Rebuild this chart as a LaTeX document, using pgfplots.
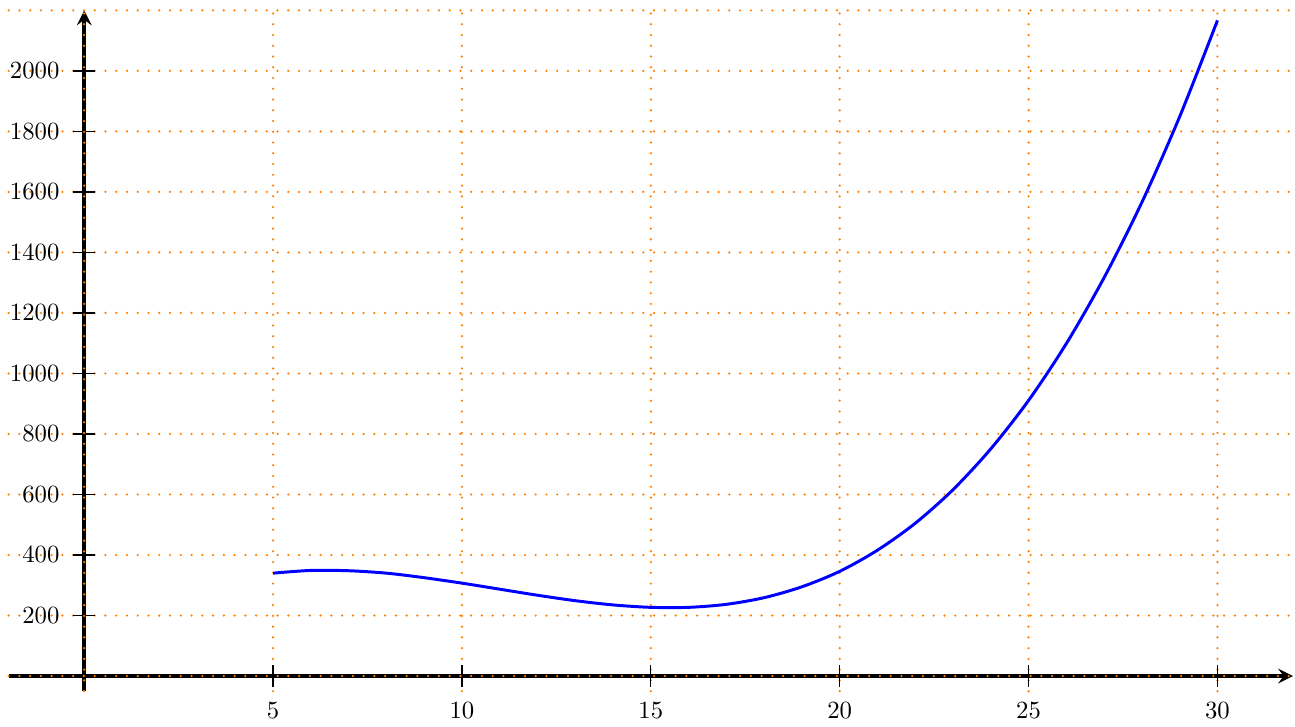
\documentclass[border=0pt]{standalone}
\usepackage{pgfplots}
\pgfplotsset{compat=1.18}
\pgfplotsset{
  layers/gridover/.define layer set={axis background,axis ticks,axis lines,axis grid,axis tick labels,main,axis descriptions,axis foreground}{},
}
\begin{document}
\begin{tikzpicture}
\begin{axis}[
    set layers=gridover,
    scale only axis,
    width=519.4pt,
    height=275.3pt,
    axis lines=middle,
    axis line style={line width=1.6pt},
    xmin=-2, xmax=32,
    ymin=-50, ymax=2200,
    xtick={5,10,...,30},
    ytick={200,400,...,2000},
    extra x ticks={0},
    extra x tick labels={},
    extra y ticks={0,2200},
    extra y tick labels={},
    extra tick style={major tick length=0pt},
    grid=major,
    grid style={orange, line width=1pt, line cap=round, dash pattern=on 0pt off 4.35pt},
    tick align=center,
    major tick length=9pt,
    tick style={black, line width=0.5pt},
    /pgf/number format/set thousands separator={},
    xticklabel style={yshift=-2.5pt},
    yticklabel style={xshift=-2pt},
]
\addplot[blue, very thick, smooth] coordinates {
    (5,340) (6,349) (7,348) (8,340) (9,325) (10,307) (11,287) (12,267)
    (13,249) (14,235) (15,227) (16,227) (17,237) (18,259) (19,295) (20,346)
    (21,416) (22,505) (23,616) (24,751) (25,911) (26,1099) (27,1317)
    (28,1566) (29,1849) (30,2167)
};
\end{axis}
\path ([shift={(-3.5pt,4.2pt)}]current axis.north west);
\end{tikzpicture}
\end{document}
